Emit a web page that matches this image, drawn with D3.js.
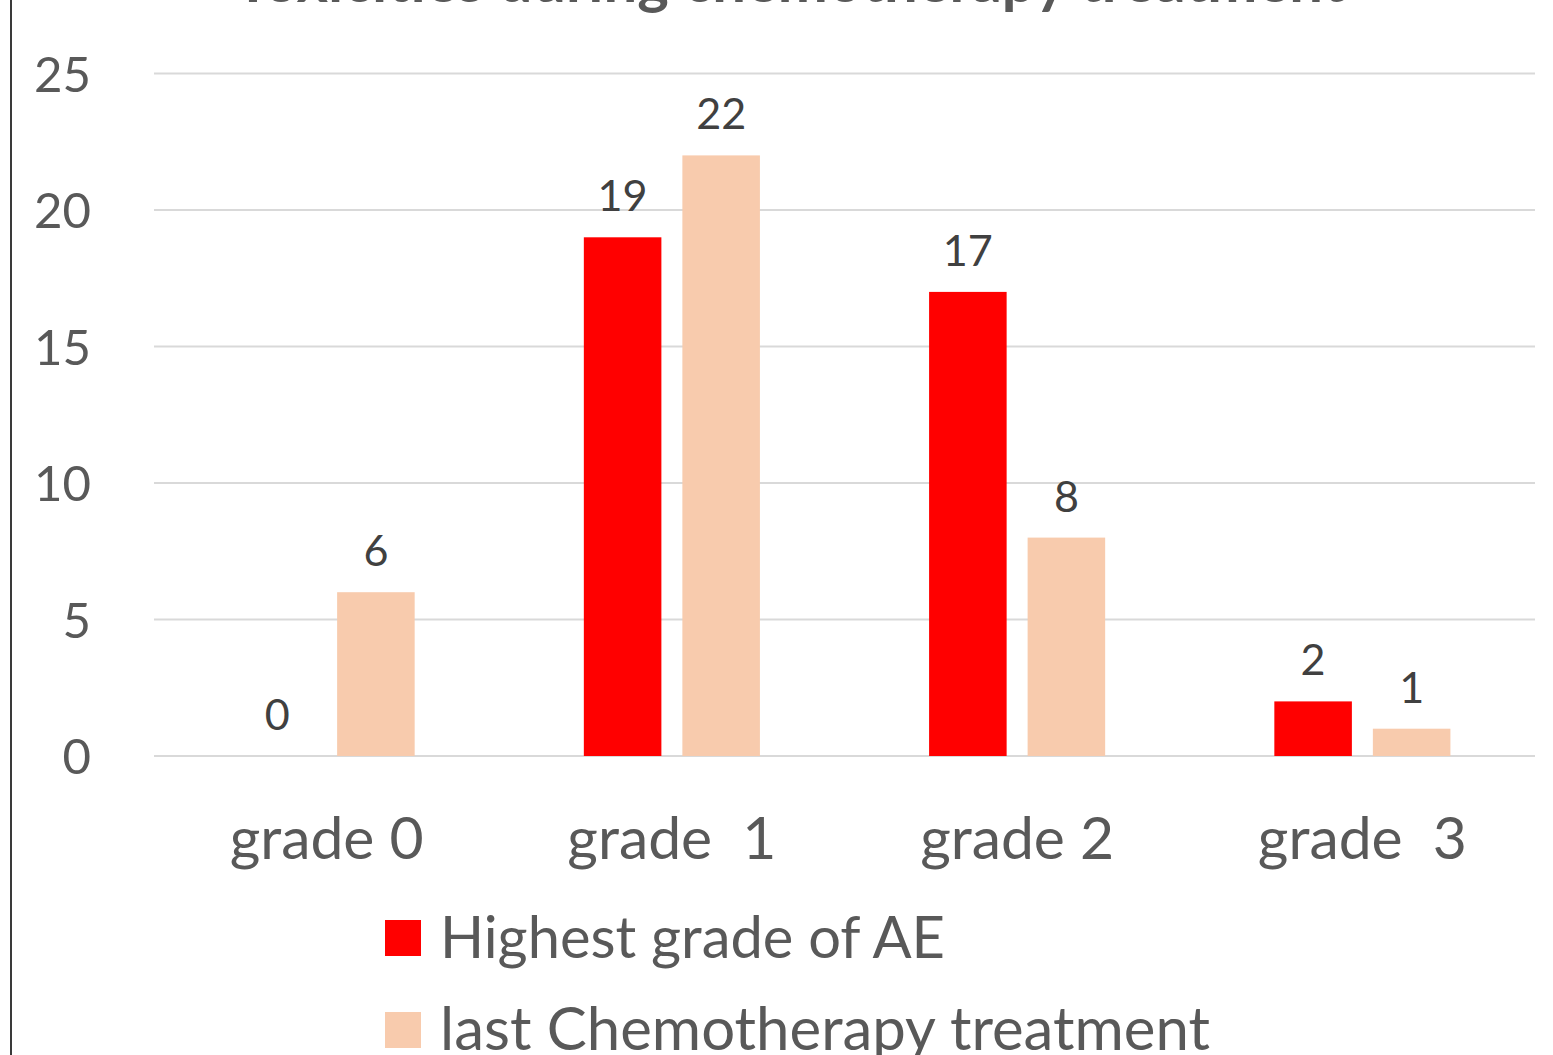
<!DOCTYPE html>
<html>
<head>
<meta charset="utf-8">
<script src="https://cdn.jsdelivr.net/npm/d3@7"></script>
<style>
html,body{margin:0;padding:0;background:#fff;}
svg{display:block;}
text{font-family:Lato,"Open Sans",sans-serif;}
</style>
</head>
<body>
<svg id="chart" width="1553" height="1055"></svg>
<script>
const title = "Toxicities during chemotherapy treatment";
const categories = ["grade 0", "grade  1", "grade 2", "grade  3"];
const seriesNames = ["Highest grade of AE", "last Chemotherapy treatment"];
const highestGrade = [0, 19, 17, 2];
const lastChemo = [6, 22, 8, 1];
const yTicks = [0, 5, 10, 15, 20, 25];
const colors = ["#FF0000", "#F8CBAD"];

const svg = d3.select("#chart");
const W = 1553, H = 1055;
const plot = {left: 154, right: 1535, top: 73.5, bottom: 756};

const series = [highestGrade, lastChemo];
const rows = categories.map((c, i) => ({cat: c, vals: series.map(s => s[i])}));

const x = d3.scaleBand().domain(categories).range([plot.left, plot.right]).padding(0);
const xs = d3.scaleBand().domain(d3.range(series.length))
  .range([x.bandwidth() * 0.245, x.bandwidth() * 0.755]).paddingInner(0.213).paddingOuter(0);
const y = d3.scaleLinear().domain([0, 25]).range([plot.bottom, plot.top]);

// fit a font-size so that a sample string has the target width
function fitSize(sample, target, weight) {
  const t = svg.append("text").attr("font-size", 100).attr("font-weight", weight || 400)
    .style("white-space", "pre").text(sample);
  const w = t.node().getComputedTextLength();
  t.remove();
  return 100 * target / w;
}
const tickSize = fitSize("25", 57);
const catSize = fitSize("grade 0", 194);
const labSize = fitSize("22", 50);
const legSizes = [fitSize(seriesNames[0], 505), fitSize(seriesNames[1], 770)];
const titleSize = fitSize(title, 1110, 700);

// left border of chart area
svg.append("line").attr("x1", 11).attr("x2", 11).attr("y1", 0).attr("y2", H)
  .attr("stroke", "#3a3a3a").attr("stroke-width", 2);

// title (mostly cut off at the top)
svg.append("text").attr("x", 790).attr("y", 2).attr("text-anchor", "middle")
  .attr("font-size", titleSize).attr("font-weight", 700).attr("fill", "#595959").text(title);

// gridlines
svg.append("g").selectAll("line").data(yTicks).join("line")
  .attr("x1", plot.left).attr("x2", plot.right)
  .attr("y1", d => y(d)).attr("y2", d => y(d))
  .attr("stroke", "#D9D9D9").attr("stroke-width", 2);

// y axis labels
const yAxis = d3.axisLeft(y).tickValues(yTicks).tickSize(0).tickPadding(0);
const gy = svg.append("g").attr("transform", "translate(91,0)").call(yAxis);
gy.select(".domain").remove();
gy.selectAll("text").attr("font-size", tickSize).attr("fill", "#595959")
  .attr("font-family", "Lato").attr("dy", "0.36em");

// x axis labels
const xAxis = d3.axisBottom(x).tickSize(0).tickPadding(0);
const gx = svg.append("g").attr("transform", "translate(0,859)").call(xAxis);
gx.select(".domain").remove();
gx.selectAll("text").attr("font-size", catSize).attr("fill", "#595959")
  .attr("font-family", "Lato").attr("dy", 0).style("white-space", "pre");

// bars
const groups = svg.append("g").selectAll("g").data(rows).join("g")
  .attr("transform", d => `translate(${x(d.cat)},0)`);
groups.selectAll("rect").data(d => d.vals.map((v, i) => ({v, i}))).join("rect")
  .attr("x", d => xs(d.i)).attr("width", xs.bandwidth())
  .attr("y", d => y(d.v)).attr("height", d => y(0) - y(d.v))
  .attr("fill", d => colors[d.i]);
groups.selectAll("text").data(d => d.vals.map((v, i) => ({v, i}))).join("text")
  .attr("x", d => xs(d.i) + xs.bandwidth() / 2).attr("y", d => y(d.v) - 26)
  .attr("text-anchor", "middle").attr("font-size", labSize).attr("fill", "#404040")
  .text(d => d.v);

// legend
const leg = svg.append("g").selectAll("g").data(seriesNames).join("g")
  .attr("transform", (d, i) => `translate(385,${920 + i * 92})`);
leg.append("rect").attr("width", 36).attr("height", 36).attr("fill", (d, i) => colors[i]);
leg.append("text").attr("x", 55).attr("y", 38).attr("font-size", (d, i) => legSizes[i])
  .attr("fill", "#595959").text(d => d);
</script>
</body>
</html>
